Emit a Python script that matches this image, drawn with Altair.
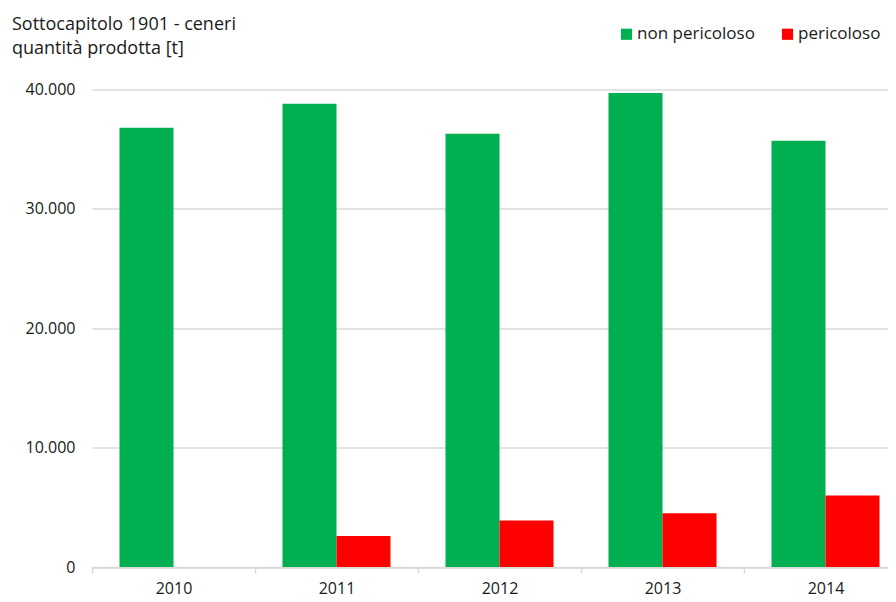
import altair as alt
import pandas as pd

years = ["2010", "2011", "2012", "2013", "2014"]
non_pericoloso = [36800, 38800, 36300, 39700, 35700]
pericoloso = [0, 2600, 3900, 4500, 6000]
series = ["non pericoloso", "pericoloso"]
colors = ["#00b050", "#ff0000"]

rows = []
for i, y in enumerate(years):
    rows.append({"anno": y, "tipo": series[0], "valore": non_pericoloso[i]})
    rows.append({"anno": y, "tipo": series[1], "valore": pericoloso[i]})
df = pd.DataFrame(rows)

FONT = "Open Sans"

chart = alt.Chart(df).mark_bar().encode(
    x=alt.X("anno:N", title=None,
            scale=alt.Scale(range=[0, 815], paddingInner=0, paddingOuter=0),
            axis=alt.Axis(labelAngle=0, tickBand="extent", domainColor="#d9d9d9",
                          tickColor="#d9d9d9", tickSize=6, labelPadding=7,
                          labelFontSize=16, labelColor="#1a1a1a", labelFont=FONT,
                          domainWidth=1.5, tickWidth=1.5)),
    xOffset=alt.XOffset("tipo:N", sort=series,
                        scale=alt.Scale(paddingInner=0, paddingOuter=0.509)),
    y=alt.Y("valore:Q", title=None,
            scale=alt.Scale(domain=[0, 40000], nice=False),
            axis=alt.Axis(values=[0, 10000, 20000, 30000, 40000],
                          labelExpr="datum.value == 0 ? '0' : format(datum.value/1000, 'd') + '.000'",
                          domain=False, ticks=False, labelPadding=17, gridColor="#d9d9d9",
                          gridWidth=1.5, labelFontSize=16, labelColor="#1a1a1a", labelFont=FONT)),
    color=alt.Color("tipo:N", sort=series,
                    scale=alt.Scale(domain=series, range=colors),
                    legend=alt.Legend(title=None, orient="none", direction="horizontal",
                                      legendX=526, legendY=-64, symbolType="square",
                                      symbolSize=125, symbolStrokeWidth=0, labelFontSize=17,
                                      labelFont=FONT, labelColor="#1a1a1a", columnPadding=24,
                                      labelOffset=2)),
).properties(
    width=796,
    height=477.5,
    title=alt.TitleParams(text=["Sottocapitolo 1901 - ceneri", "quantità prodotta [t]"],
                          anchor="start", frame="group", dx=-80, dy=40, offset=8,
                          fontSize=18, font=FONT, fontWeight="normal", color="#1a1a1a",
                          lineHeight=24),
    autosize=alt.AutoSizeParams(type="none"),
    padding={"left": 84, "top": 81.5, "right": 0, "bottom": 30},
).configure_view(stroke=None)

chart.save("out.html", embed_options={"renderer": "svg", "actions": False})
